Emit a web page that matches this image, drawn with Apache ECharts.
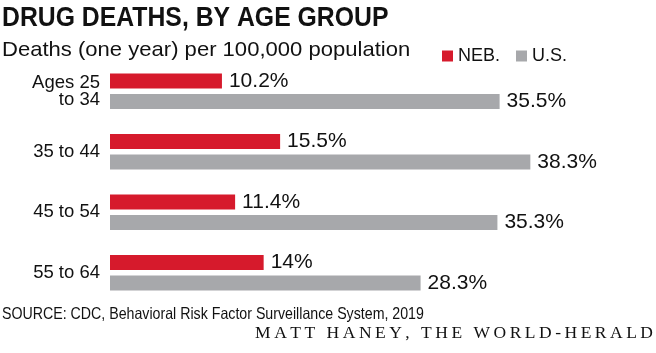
<!DOCTYPE html>
<html>
<head>
<meta charset="utf-8">
<script src="https://cdn.jsdelivr.net/npm/echarts@6/dist/echarts.min.js"></script>
<style>
  html, body { margin: 0; padding: 0; background: #fff; }
  #chart { width: 656px; height: 353px; }
</style>
</head>
<body>
<div id="chart"></div>
<script>
// 数据
var categories = ['Ages 25\nto 34', '35 to 44', '45 to 54', '55 to 64']
var nebValues = [10.2, 15.5, 11.4, 14]
var usValues = [35.5, 38.3, 35.3, 28.3]
var seriesNames = ['NEB.', 'U.S.']

var TITLE = 'DRUG DEATHS, BY AGE GROUP'
var SUBTITLE = 'Deaths (one year) per 100,000 population'
var SOURCE = 'SOURCE: CDC, Behavioral Risk Factor Surveillance System, 2019'
var CREDIT = 'MATT HANEY, THE WORLD-HERALD'

var RED = '#d61a2c'
var GRAY = '#a7a8ab'
var INK = '#111'
var SANS = '"Liberation Sans", Arial, sans-serif'

var chart = echarts.init(document.getElementById('chart'))

var labelStyle = {
  show: true,
  position: 'right',
  distance: 7,
  formatter: '{c}%',
  fontFamily: SANS,
  fontSize: 21,
  color: INK
}

var options = {
  animation: false,
  color: [RED, GRAY],
  // 图例
  legend: {
    left: 437,
    top: 42,
    icon: 'rect',
    itemWidth: 11,
    itemHeight: 11,
    itemGap: 16,
    textStyle: {
      fontFamily: '"Liberation Sans Narrow", ' + SANS,
      fontSize: 18,
      color: INK,
      padding: [2, 0, 0, 0]
    },
    data: seriesNames
  },
  grid: {
    left: 110,
    right: 107,
    top: 61,
    bottom: 50,
    containLabel: false
  },
  xAxis: {
    type: 'value',
    min: 0,
    max: 40,
    show: false
  },
  yAxis: {
    type: 'category',
    inverse: true,
    data: categories,
    axisLine: { show: false },
    axisTick: { show: false },
    splitLine: { show: false },
    axisLabel: {
      margin: 10,
      fontFamily: SANS,
      fontSize: 18.5,
      lineHeight: 17,
      color: INK,
      align: 'right'
    }
  },
  series: [
    {
      name: seriesNames[0],
      type: 'bar',
      data: nebValues,
      barWidth: 15,
      barGap: '38%',
      label: labelStyle
    },
    {
      name: seriesNames[1],
      type: 'bar',
      data: usValues,
      barWidth: 15,
      barGap: '38%',
      label: labelStyle
    }
  ],
  // 标题、副标题、来源
  graphic: [
    {
      type: 'text',
      x: 2,
      y: 18,
      scaleX: 0.885,
      style: {
        text: TITLE,
        font: 'bold 28px ' + SANS,
        fill: INK,
        verticalAlign: 'middle'
      }
    },
    {
      type: 'text',
      x: 2,
      y: 50,
      scaleX: 1.05,
      style: {
        text: SUBTITLE,
        font: '21px ' + SANS,
        fill: INK,
        verticalAlign: 'middle'
      }
    },
    {
      type: 'text',
      x: 2,
      y: 314,
      scaleX: 0.86,
      style: {
        text: SOURCE,
        font: '16.5px ' + SANS,
        fill: INK,
        verticalAlign: 'middle'
      }
    },
    {
      type: 'text',
      x: 653,
      y: 333,
      style: {
        text: CREDIT.split('').join('\u2009'),
        font: '17.5px "Liberation Serif", "Times New Roman", serif',
        fill: INK,
        align: 'right',
        verticalAlign: 'middle'
      }
    }
  ]
}

chart.setOption(options, true)
</script>
</body>
</html>
